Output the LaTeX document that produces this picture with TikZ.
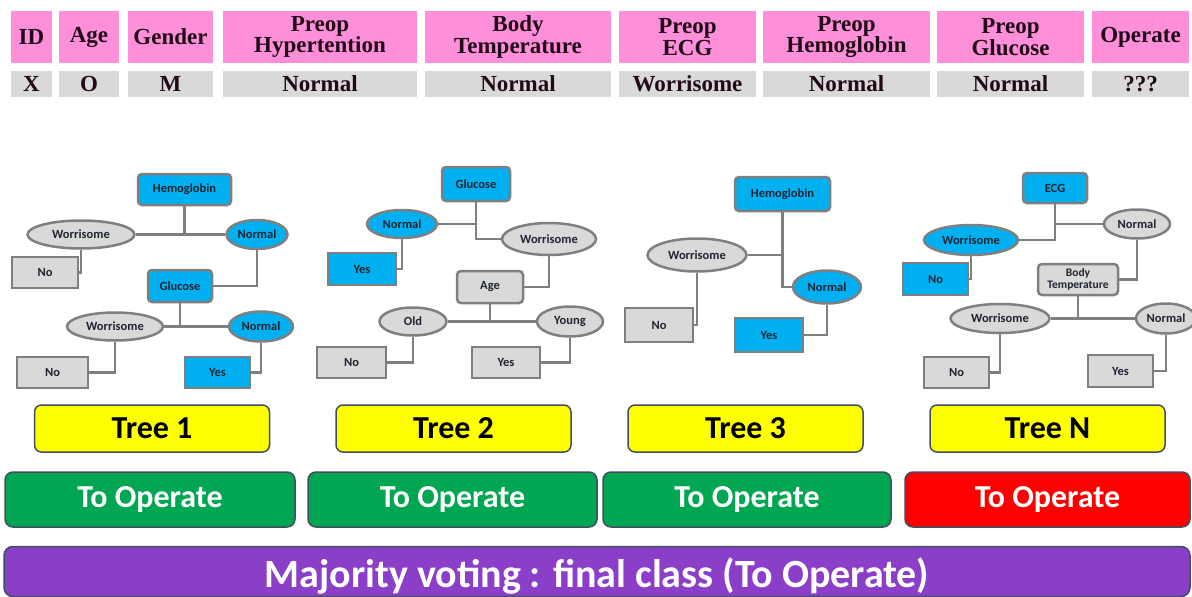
\documentclass[tikz,border=0pt]{standalone}
\usepackage{fontspec}
\setmainfont{Carlito}
\newfontfamily\tabfont{Liberation Serif}
\usetikzlibrary{shapes.geometric}
\definecolor{pinkc}{HTML}{FF8FD8}
\definecolor{cellgray}{HTML}{D9D9D9}
\definecolor{nodeblue}{HTML}{00B0F0}
\definecolor{edgegray}{HTML}{7F7F7F}
\definecolor{txtdark}{HTML}{1F2430}
\definecolor{hdrtxt}{HTML}{200A18}
\definecolor{yel}{HTML}{FFFF00}
\definecolor{grn}{HTML}{00A651}
\definecolor{redc}{HTML}{FF0000}
\definecolor{purp}{HTML}{8B3FC9}
\definecolor{boxedge}{HTML}{3F4F62}
\tikzset{
  hdr/.style={fill=pinkc, inner sep=0pt, minimum height=52pt, align=center,
    font=\tabfont\bfseries\fontsize{23}{21.5}\selectfont, text=hdrtxt},
  dat/.style={fill=cellgray, inner sep=0pt, minimum height=26pt,
    font=\tabfont\bfseries\fontsize{23}{22}\selectfont, text=hdrtxt},
  tnode/.style={draw=edgegray, line width=2.5pt, inner sep=0pt, text=txtdark,
    font=\bfseries\fontsize{12.5}{13}\selectfont, align=center},
  bluebox/.style={tnode, fill=nodeblue, rounded corners=4pt},
  graybox/.style={tnode, fill=cellgray, rounded corners=4pt},
  blueleaf/.style={tnode, fill=nodeblue},
  grayleaf/.style={tnode, fill=cellgray},
  blueell/.style={tnode, fill=nodeblue, ellipse},
  grayell/.style={tnode, fill=cellgray, ellipse},
  conn/.style={draw=edgegray, line width=2.5pt},
  treelbl/.style={draw=boxedge, line width=1.5pt, fill=yel, rounded corners=7pt,
    minimum width=235pt, minimum height=47pt, inner sep=0pt,
    font=\bfseries\fontsize{32}{32}\selectfont},
  vote/.style={draw=boxedge, line width=1.5pt, rounded corners=8pt,
    minimum height=55pt, inner sep=0pt, text=white,
    font=\bfseries\fontsize{32}{32}\selectfont},
}
\begin{document}
\begin{tikzpicture}[x=1pt,y=-1pt]
\useasboundingbox (0,0) rectangle (1192,597);
% table header
\node[hdr, minimum width=41pt]  (h1) at (31.5,37) {ID};
\node[hdr, minimum width=60pt]  (h2) at (89,37) {Age};
\node[hdr, minimum width=85pt]  (h3) at (170.5,37) {Gender};
\node[hdr, minimum width=194pt] (h4) at (320,37) {Preop\\Hypertention};
\node[hdr, minimum width=186pt] (h5) at (518,37) {Body\\Temperature};
\node[hdr, minimum width=137pt] (h6) at (687.5,37) {Preop\\ECG};
\node[hdr, minimum width=167pt] (h7) at (846.5,37) {Preop\\Hemoglobin};
\node[hdr, minimum width=147pt] (h8) at (1010.5,37) {Preop\\Glucose};
\node[hdr, minimum width=97pt]  (h9) at (1140.5,37) {Operate};
% data row
\node[dat, minimum width=41pt]  (d1) at (31.5,84) {X};
\node[dat, minimum width=60pt]  (d2) at (89,84) {O};
\node[dat, minimum width=85pt]  (d3) at (170.5,84) {M};
\node[dat, minimum width=194pt] (d4) at (320,84) {Normal};
\node[dat, minimum width=186pt] (d5) at (518,84) {Normal};
\node[dat, minimum width=137pt] (d6) at (687.5,84) {Worrisome};
\node[dat, minimum width=167pt] (d7) at (846.5,84) {Normal};
\node[dat, minimum width=147pt] (d8) at (1010.5,84) {Normal};
\node[dat, minimum width=97pt]  (d9) at (1140.5,84) {???};

% ---------- Tree 1
\node[bluebox, minimum width=93pt, minimum height=31pt] (t1a) at (184.5,189.5) {Hemoglobin};
\node[grayell, minimum width=107pt, minimum height=28pt] (t1b) at (81,234.5) {Worrisome};
\node[blueell, minimum width=61pt, minimum height=29pt] (t1c) at (257,234.5) {Normal};
\node[grayleaf, minimum width=66pt, minimum height=31pt] (t1d) at (45,272.5) {No};
\node[bluebox, minimum width=64pt, minimum height=32pt] (t1e) at (180,286) {Glucose};
\node[grayell, minimum width=96pt, minimum height=28pt] (t1f) at (115,326.5) {Worrisome};
\node[blueell, minimum width=64pt, minimum height=30pt] (t1g) at (261,326.5) {Normal};
\node[grayleaf, minimum width=71pt, minimum height=31pt] (t1h) at (52.5,372.5) {No};
\node[blueleaf, minimum width=65pt, minimum height=31pt] (t1i) at (217.5,372.5) {Yes};
\draw[conn] (t1b.east) -- (t1c.west);
\draw[conn] (t1a.south) -- (t1a.south |- t1b.east);
\draw[conn] (t1b.south) |- (t1d.east);
\draw[conn] (t1c.south) |- (t1e.east);
\draw[conn] (t1f.east) -- (t1g.west);
\draw[conn] (t1e.south) -- (t1e.south |- t1f.east);
\draw[conn] (t1f.south) |- (t1h.east);
\draw[conn] (t1g.south) |- (t1i.east);

% ---------- Tree 2
\node[bluebox, minimum width=68pt, minimum height=34pt] (t2a) at (476,184) {Glucose};
\node[blueell, minimum width=70pt, minimum height=28pt] (t2b) at (402,224) {Normal};
\node[grayell, minimum width=94pt, minimum height=32pt] (t2c) at (549,239) {Worrisome};
\node[blueleaf, minimum width=68pt, minimum height=32pt] (t2d) at (362,269) {Yes};
\node[graybox, minimum width=66pt, minimum height=32pt] (t2e) at (490,287) {Age};
\node[grayell, minimum width=67pt, minimum height=28pt] (t2f) at (413,321.5) {Old};
\node[grayell, minimum width=66pt, minimum height=30pt] (t2g) at (570,321.5) {Young};
\node[grayleaf, minimum width=69pt, minimum height=31pt] (t2h) at (351.5,362.5) {No};
\node[grayleaf, minimum width=68pt, minimum height=31pt] (t2i) at (506,362.5) {Yes};
\draw[conn] (t2a.south) |- (t2c.west);
\draw[conn] (t2b.east) -- (t2a.south |- t2b.east);
\draw[conn] (t2b.south) |- (t2d.east);
\draw[conn] (t2c.south) |- (t2e.east);
\draw[conn] (t2f.east) -- (t2g.west);
\draw[conn] (t2e.south) -- (t2e.south |- t2f.east);
\draw[conn] (t2f.south) |- (t2h.east);
\draw[conn] (t2g.south) |- (t2i.east);

% ---------- Tree 3
\node[bluebox, minimum width=95pt, minimum height=34pt] (t3a) at (782.5,194) {Hemoglobin};
\node[grayell, minimum width=99pt, minimum height=33pt] (t3b) at (697,255) {Worrisome};
\node[blueell, minimum width=68pt, minimum height=33pt] (t3c) at (827,287) {Normal};
\node[grayleaf, minimum width=68pt, minimum height=34pt] (t3d) at (659,325) {No};
\node[blueleaf, minimum width=68pt, minimum height=34pt] (t3e) at (769,335) {Yes};
\draw[conn] (t3a.south) |- (t3c.west);
\draw[conn] (t3b.east) -- (t3a.south |- t3b.east);
\draw[conn] (t3b.south) |- (t3d.east);
\draw[conn] (t3c.south) |- (t3e.east);

% ---------- Tree N
\node[bluebox, minimum width=64pt, minimum height=30pt] (t4a) at (1055,188) {ECG};
\node[grayell, minimum width=66pt, minimum height=29pt] (t4b) at (1137,224) {Normal};
\node[blueell, minimum width=94pt, minimum height=30pt] (t4c) at (971,240) {Worrisome};
\node[blueleaf, minimum width=65pt, minimum height=32pt] (t4d) at (935.5,279) {No};
\node[graybox, minimum width=80pt, minimum height=31pt, font=\bfseries\fontsize{11.5}{12}\selectfont] (t4e) at (1078,279.5) {Body\\Temperature};
\node[grayell, minimum width=99pt, minimum height=29pt] (t4f) at (1000,318.5) {Worrisome};
\node[grayell, minimum width=60pt, minimum height=30pt] (t4g) at (1166,318.5) {Normal};
\node[grayleaf, minimum width=65pt, minimum height=31pt] (t4h) at (956.5,372.5) {No};
\node[grayleaf, minimum width=65pt, minimum height=32pt] (t4i) at (1120.5,371) {Yes};
\draw[conn] (t4a.south) |- (t4c.east);
\draw[conn] (t4a.south |- t4b.west) -- (t4b.west);
\draw[conn] (t4c.south) |- (t4d.east);
\draw[conn] (t4b.south) |- (t4e.east);
\draw[conn] (t4f.east) -- (t4g.west);
\draw[conn] (t4e.south) -- (t4e.south |- t4f.east);
\draw[conn] (t4f.south) |- (t4h.east);
\draw[conn] (t4g.south) |- (t4i.east);

% ---------- labels
\node[treelbl] (l1) at (152,428.5) {Tree 1};
\node[treelbl] (l2) at (453.5,428.5) {Tree 2};
\node[treelbl] (l3) at (745.5,428.5) {Tree 3};
\node[treelbl] (l4) at (1047.5,428.5) {Tree N};
\node[vote, fill=grn, minimum width=290pt] (v1) at (150,499.5) {To Operate};
\node[vote, fill=grn, minimum width=289pt] (v2) at (452.5,499.5) {To Operate};
\node[vote, fill=grn, minimum width=288pt] (v3) at (747,499.5) {To Operate};
\node[vote, fill=redc, minimum width=285pt] (v4) at (1047.5,499.5) {To Operate};
\node[draw=boxedge, line width=1.5pt, rounded corners=9pt, fill=purp,
  minimum width=1186pt, minimum height=50pt, inner sep=0pt] (fin) at (597,571.5) {};
\node[text=white, inner sep=0pt, font=\bfseries\fontsize{40}{40}\selectfont]
  (fintxt) at (597,576) {Majority voting : final class (To Operate)};
\end{tikzpicture}
\end{document}
